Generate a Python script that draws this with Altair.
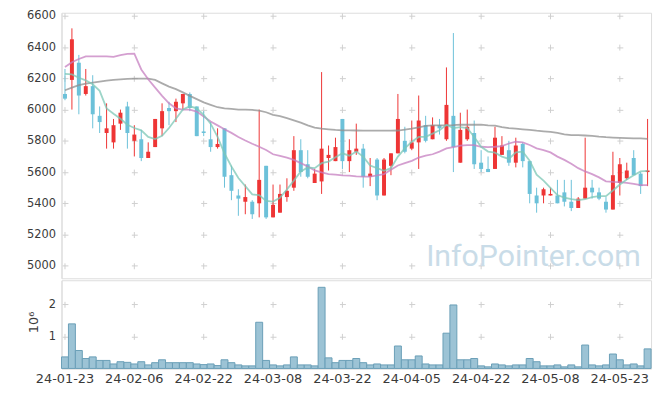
import altair as alt
import pandas as pd

dates = ["24-01-23","24-01-24","24-01-25","24-01-26","24-01-29","24-01-30","24-01-31","24-02-01","24-02-02","24-02-05",
         "24-02-06","24-02-07","24-02-08","24-02-13","24-02-14","24-02-15","24-02-16","24-02-19","24-02-20","24-02-21",
         "24-02-22","24-02-23","24-02-26","24-02-27","24-02-28","24-02-29","24-03-04","24-03-05","24-03-06","24-03-07",
         "24-03-08","24-03-11","24-03-12","24-03-13","24-03-14","24-03-15","24-03-18","24-03-19","24-03-20","24-03-21",
         "24-03-22","24-03-25","24-03-26","24-03-27","24-03-28","24-03-29","24-04-01","24-04-02","24-04-03","24-04-04",
         "24-04-05","24-04-08","24-04-09","24-04-11","24-04-12","24-04-15","24-04-16","24-04-17","24-04-18","24-04-19",
         "24-04-22","24-04-23","24-04-24","24-04-25","24-04-26","24-04-29","24-04-30","24-05-02","24-05-03","24-05-07",
         "24-05-08","24-05-09","24-05-10","24-05-13","24-05-14","24-05-16","24-05-17","24-05-20","24-05-21","24-05-22",
         "24-05-23","24-05-24","24-05-27","24-05-28","24-05-29"]

open_ = [6100,6190,6300,6100,6150,5960,5850,5790,5910,6020,
         5800,5810,5690,5760,5880,6010,5990,6040,6100,6020,
         5860,5810,5760,5880,5580,5450,5410,5410,5400,5640,
         5310,5340,5440,5500,5740,5650,5530,5540,5690,5670,
         5940,5670,5730,5750,5570,5680,5450,5640,5720,5800,
         5750,5790,5900,5810,5900,5810,5960,5660,5810,5850,
         5660,5620,5620,5710,5740,5660,5780,5670,5450,5450,
         5450,5450,5470,5410,5370,5430,5500,5470,5410,5360,
         5530,5560,5690,5590,5600]
high = [6260,6520,6350,6260,6220,6020,6040,5940,6000,6050,
        5900,5870,5790,5940,6040,6050,6070,6100,6110,6020,
        5990,5920,5880,5880,5640,5490,5520,5420,6000,5640,
        5520,5520,5560,5830,5810,5740,5620,6240,5770,5820,
        5940,5810,5910,5780,5690,5690,5690,5720,6100,5890,
        5930,6090,5960,5950,5940,6270,6490,5980,6000,5930,
        5740,5700,5890,5830,5800,5820,5790,5670,5500,5500,
        5500,5550,5550,5550,5440,5820,5550,5500,5440,5730,
        5690,5660,5740,5600,5940]
low = [6060,6000,5970,6090,5880,5850,5750,5750,5870,5750,
       5700,5670,5690,5760,5830,5900,5920,6000,5990,5830,
       5830,5730,5750,5500,5420,5320,5330,5300,5310,5300,
       5310,5340,5410,5480,5570,5560,5530,5460,5610,5670,
       5620,5600,5710,5500,5510,5420,5450,5580,5720,5720,
       5740,5620,5790,5810,5840,5800,5600,5660,5800,5620,
       5600,5600,5620,5710,5640,5630,5630,5400,5340,5400,
       5450,5400,5380,5350,5370,5430,5430,5420,5340,5360,
       5450,5550,5580,5460,5510]
close = [6070,6450,6090,6150,5970,5920,5880,5900,5980,5850,
         5840,5690,5730,5940,5990,5990,6050,6100,6010,5830,
         5850,5760,5780,5570,5480,5430,5440,5330,5550,5310,
         5390,5460,5480,5740,5600,5570,5590,5750,5710,5760,
         5670,5740,5750,5570,5590,5450,5680,5720,5940,5730,
         5790,5930,5800,5900,5880,6030,5760,5870,5890,5650,
         5620,5600,5820,5770,5660,5770,5670,5460,5400,5490,
         5460,5400,5410,5370,5430,5500,5470,5430,5360,5580,
         5650,5610,5580,5510,5610]
volume = [0.36,1.39,0.56,0.31,0.36,0.25,0.25,0.14,0.21,0.19,
          0.14,0.21,0.11,0.18,0.27,0.18,0.18,0.18,0.18,0.14,
          0.12,0.14,0.09,0.27,0.18,0.11,0.08,0.08,1.44,0.25,
          0.11,0.08,0.11,0.36,0.11,0.11,0.08,2.53,0.33,0.18,
          0.25,0.25,0.31,0.18,0.11,0.14,0.11,0.11,0.70,0.27,
          0.27,0.39,0.14,0.11,0.11,1.10,1.98,0.27,0.27,0.31,
          0.08,0.05,0.14,0.11,0.08,0.11,0.11,0.31,0.21,0.08,
          0.08,0.11,0.05,0.11,0.05,0.73,0.11,0.08,0.11,0.45,
          0.27,0.11,0.14,0.08,0.61]
ma5 = [6229,6225,6204,6187,6162,6120,6008,5973,5941,5903,
       5882,5867,5825,5811,5832,5882,5941,6000,6021,6008,
       5966,5910,5825,5720,5636,5562,5510,5457,5453,5415,
       5411,5436,5488,5545,5604,5630,5625,5657,5667,5695,
       5720,5705,5731,5699,5642,5625,5608,5625,5699,5752,
       5794,5825,5825,5846,5867,5903,5882,5888,5882,5825,
       5762,5731,5724,5699,5684,5726,5731,5672,5583,5545,
       5499,5453,5436,5426,5421,5426,5440,5446,5446,5482,
       5520,5552,5579,5604,5608]
ma20 = [6272,6303,6324,6341,6341,6341,6341,6337,6349,6356,
        6358,6257,6194,6141,6088,6040,6008,6000,6000,5987,
        5956,5924,5899,5874,5851,5825,5802,5781,5762,5741,
        5714,5703,5693,5678,5657,5636,5611,5598,5587,5583,
        5579,5577,5573,5571,5571,5579,5587,5615,5642,5657,
        5672,5693,5705,5714,5731,5752,5760,5769,5773,5773,
        5762,5760,5762,5766,5783,5794,5790,5773,5752,5741,
        5726,5699,5678,5653,5625,5604,5587,5566,5541,5537,
        5535,5531,5524,5516,5516]
ma60 = [6124,6141,6156,6166,6173,6179,6185,6190,6194,6196,
        6198,6198,6198,6190,6168,6147,6131,6110,6088,6067,
        6046,6030,6015,6008,6004,6000,6000,5998,5993,5983,
        5966,5958,5945,5931,5916,5899,5884,5878,5874,5870,
        5867,5867,5866,5865,5865,5865,5865,5865,5866,5872,
        5878,5886,5895,5899,5899,5899,5900,5903,5903,5903,
        5903,5899,5897,5888,5882,5878,5874,5870,5865,5861,
        5857,5851,5842,5836,5836,5834,5832,5827,5823,5821,
        5819,5817,5815,5815,5813]

price_ticks = [5000, 5200, 5400, 5600, 5800, 6000, 6200, 6400, 6600]
vol_ticks = [1000000, 2000000]
label_dates = dates[::10]

df = pd.DataFrame({
    "date": dates, "open": open_, "high": high, "low": low, "close": close,
    "volume": [v * 1e6 for v in volume], "ma5": ma5, "ma20": ma20, "ma60": ma60,
})
df["dir"] = ["up" if c >= o else "down" for o, c in zip(open_, close)]

W, H1, H2 = 595, 268, 89
FONT = "DejaVu Sans"
GRID = "#cfcfcf"
TXT = "#3a3a3a"

xscale = alt.Scale(type="band", domain=dates, paddingInner=0, paddingOuter=0)
x_price = alt.X("date:O", scale=xscale, axis=alt.Axis(
    values=label_dates, labels=False, ticks=False, domain=False, title=None,
    grid=True, gridColor=GRID, gridDash=[6, 25.53], gridDashOffset=31.38))
yscale = alt.Scale(domain=[4920, 6620], nice=False, zero=False)
y_axis = alt.Axis(values=price_ticks, format="d", title=None, ticks=False, labelPadding=6,
                  labelFontSize=11.5, labelColor=TXT, labelFont=FONT,
                  domainColor="#dddddd", grid=True, gridColor=GRID,
                  gridDash=[6, 64], gridDashOffset=69.5)
color = alt.Color("dir:N", scale=alt.Scale(domain=["up", "down"], range=["#ee3535", "#6cc1d9"]), legend=None)

base = alt.Chart(df)

watermark = alt.Chart(pd.DataFrame({"t": ["InfoPointer.com"]})).mark_text(
    align="left", baseline="alphabetic", fontSize=30.5, font="Roboto", color="#c9dce8"
).encode(text="t:N", x=alt.value(368), y=alt.value(256))

wicks = base.mark_rule(strokeWidth=1).encode(
    x=x_price, y=alt.Y("low:Q", scale=yscale, axis=y_axis), y2="high:Q", color=color)
bodies = base.mark_bar(size=4).encode(
    x=x_price, y=alt.Y("open:Q", scale=yscale, axis=y_axis), y2="close:Q", color=color)

def ma_line(field, col):
    return base.mark_line(strokeWidth=1.8, opacity=0.75, color=col).encode(
        x=x_price, y=alt.Y(f"{field}:Q", scale=yscale, axis=y_axis))

price = alt.layer(
    watermark, wicks, bodies,
    ma_line("ma60", "#8f8f8f"), ma_line("ma20", "#c57fc0"), ma_line("ma5", "#7cc7b6"),
).properties(width=W, height=H1)

x_vol = alt.X("date:O", scale=xscale, axis=alt.Axis(
    values=label_dates, title=None, ticks=False, labelAngle=0, labelPadding=4,
    labelFontSize=13, labelColor=TXT, labelFont=FONT, domainColor="#dddddd",
    grid=True, gridColor=GRID, gridDash=[6, 26.36], gridDashOffset=11.09))
vol = alt.Chart(df).mark_bar(fill="#9cc3d5", stroke="#6a9fb7", strokeWidth=1, fillOpacity=1).encode(
    x=x_vol,
    y=alt.Y("volume:Q", scale=alt.Scale(domain=[0, 2750000], nice=False),
            axis=alt.Axis(values=vol_ticks, labelExpr="datum.value / 1000000",
                          title="10⁶", titleFontSize=13, titleFontWeight="normal",
                          titleColor=TXT, titleFont=FONT, titlePadding=8,
                          titleY=42,
                          ticks=False, labelPadding=6, labelFontSize=11.5,
                          labelColor=TXT, labelFont=FONT, domainColor="#dddddd",
                          grid=True, gridColor=GRID, gridDash=[6, 64], gridDashOffset=69.5)),
).properties(width=W, height=H2)

chart = alt.vconcat(price, vol, spacing=0).properties(
    padding={"left": 18, "top": -1, "right": 5, "bottom": 5}
).configure_view(stroke="#e3e3e3").configure(background="white")

chart.save("out.html", embed_options={"renderer": "svg", "actions": False})
